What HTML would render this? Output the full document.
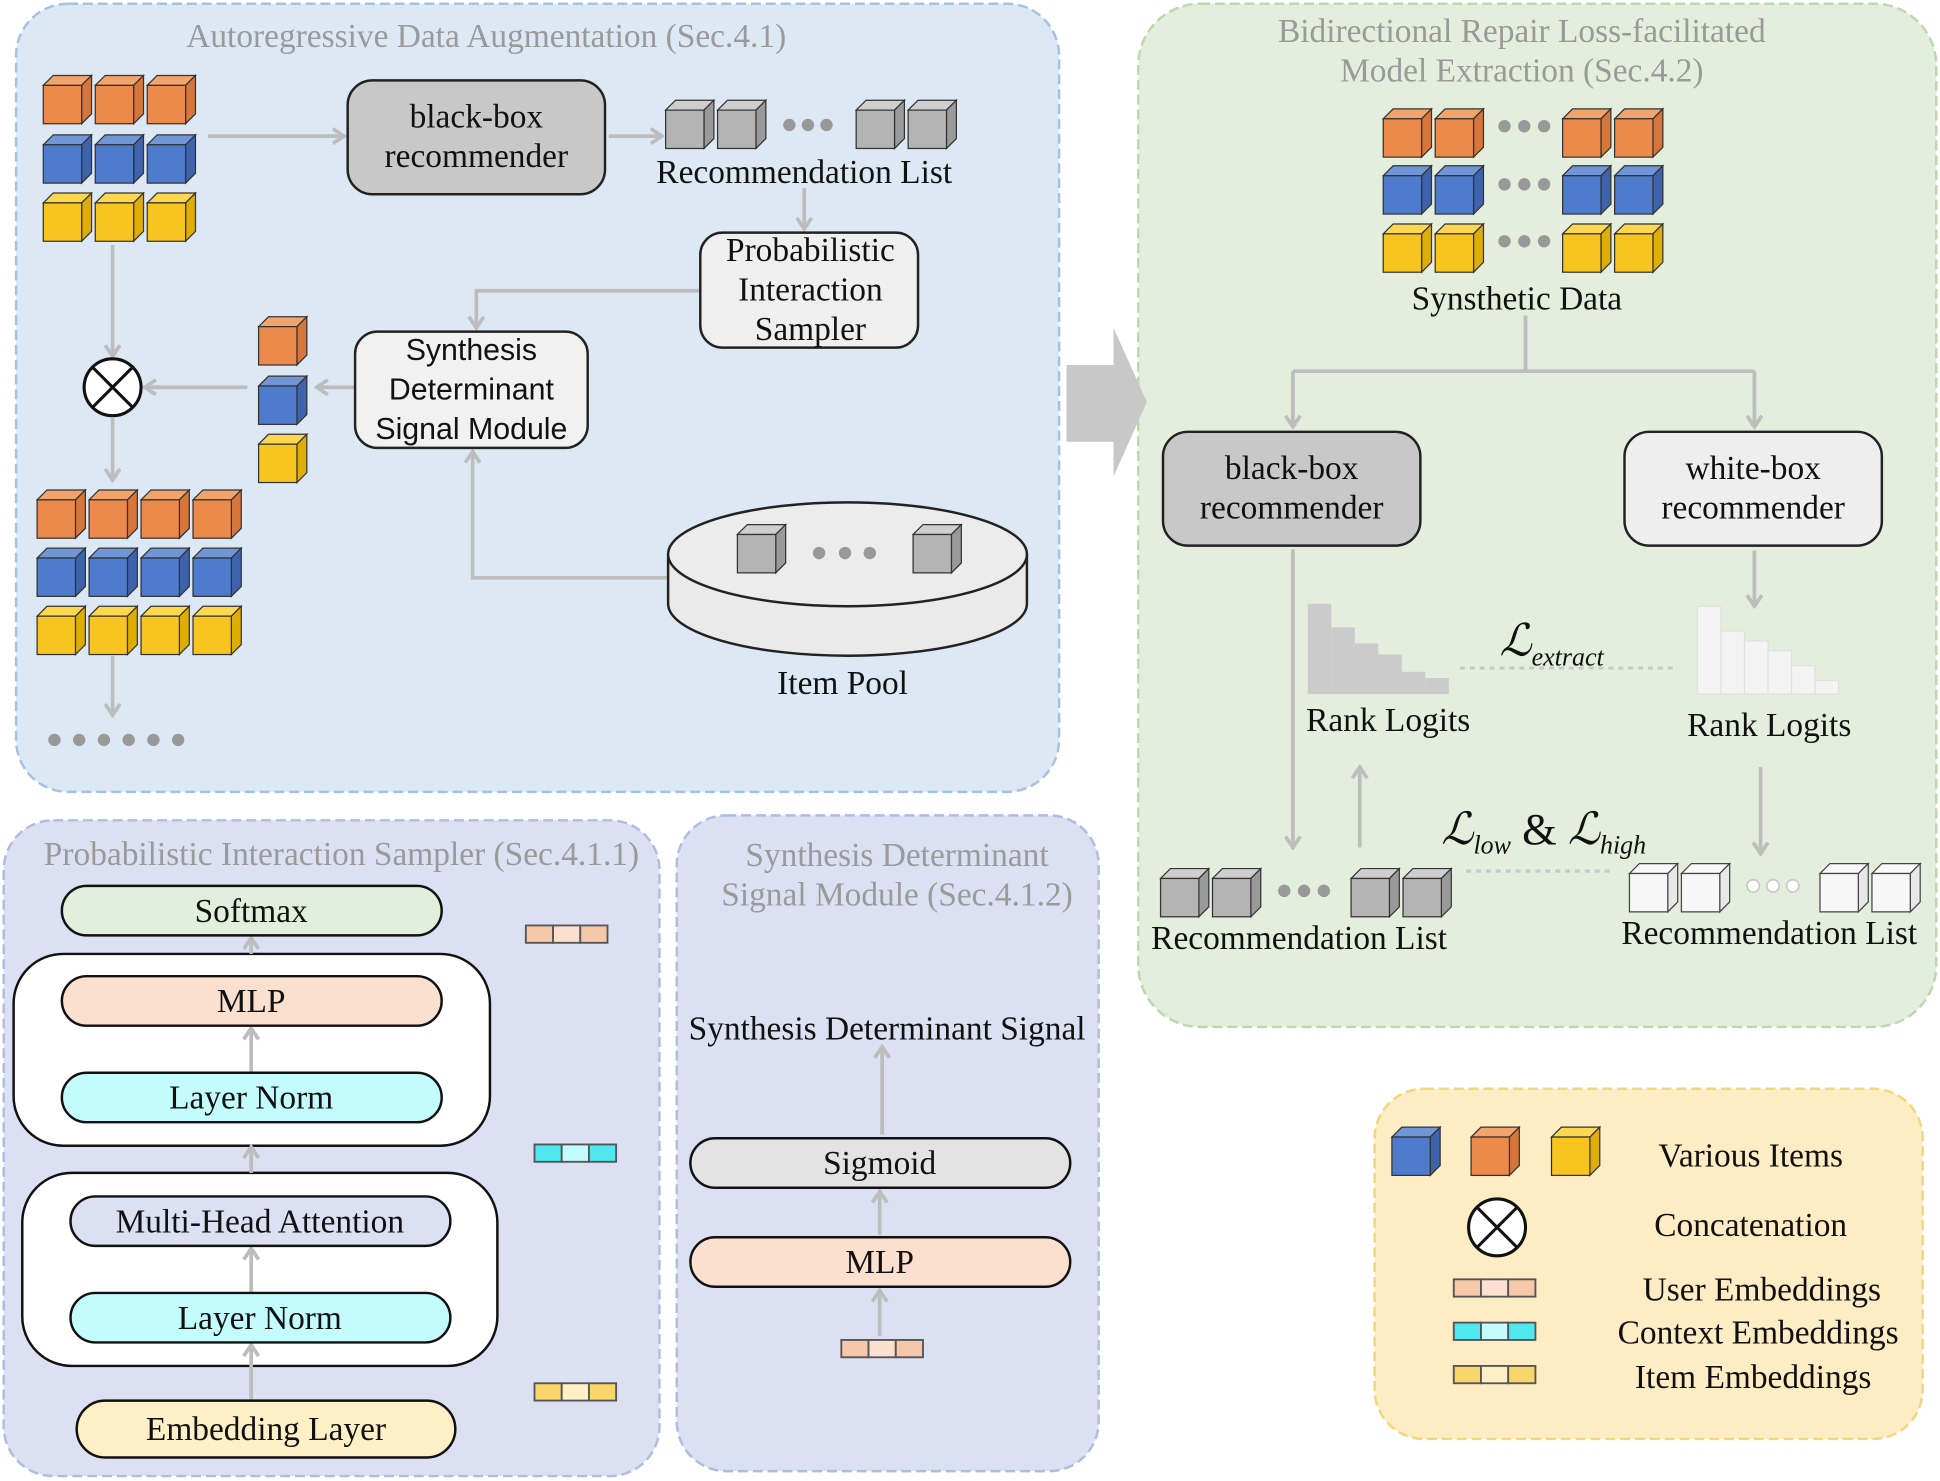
<!DOCTYPE html>
<html><head><meta charset="utf-8"><style>
html,body{margin:0;padding:0;background:#fff;}
svg{display:block;}
text{font-family:"Liberation Serif",serif;font-size:27px;fill:#111;text-anchor:middle;}
.t{fill:#9a9a9a;}
.s{font-family:"Liberation Sans",sans-serif;font-size:24.5px;}
</style></head><body>
<svg width="1940" height="1481" viewBox="0 0 1568 1197" preserveAspectRatio="none" xmlns="http://www.w3.org/2000/svg">
<defs>
<marker id="a" markerWidth="12" markerHeight="14" refX="10" refY="7" orient="auto" markerUnits="userSpaceOnUse"><polyline points="1,1 10,7 1,13" fill="none" stroke="#bdbdbd" stroke-width="3"/></marker>
<symbol id="co" viewBox="0 0 42 42"><polygon points="1,9 9,1 40,1 32,9" fill="#f3a46c" stroke="#333"/><polygon points="32,9 40,1 40,32 32,40" fill="#d7763a" stroke="#333"/><rect x="1" y="9" width="31" height="31" fill="#ec8a4b" stroke="#333"/></symbol>
<symbol id="cb" viewBox="0 0 42 42"><polygon points="1,9 9,1 40,1 32,9" fill="#7096d8" stroke="#333"/><polygon points="32,9 40,1 40,32 32,40" fill="#3d63ad" stroke="#333"/><rect x="1" y="9" width="31" height="31" fill="#4f7bcc" stroke="#333"/></symbol>
<symbol id="cy" viewBox="0 0 42 42"><polygon points="1,9 9,1 40,1 32,9" fill="#fcd750" stroke="#333"/><polygon points="32,9 40,1 40,32 32,40" fill="#dfae05" stroke="#333"/><rect x="1" y="9" width="31" height="31" fill="#f8c520" stroke="#333"/></symbol>
<symbol id="cg" viewBox="0 0 42 42"><polygon points="1,9 9,1 40,1 32,9" fill="#cfcfcf" stroke="#333"/><polygon points="32,9 40,1 40,32 32,40" fill="#9a9a9a" stroke="#333"/><rect x="1" y="9" width="31" height="31" fill="#b4b4b4" stroke="#333"/></symbol>
<symbol id="cw" viewBox="0 0 42 42"><polygon points="1,9 9,1 40,1 32,9" fill="#fafafa" stroke="#444"/><polygon points="32,9 40,1 40,32 32,40" fill="#e8e8e8" stroke="#444"/><rect x="1" y="9" width="31" height="31" fill="#f7f7f7" stroke="#444"/></symbol>
<symbol id="ox" viewBox="0 0 50 50"><circle cx="25" cy="25" r="23" fill="#fff" stroke="#111" stroke-width="2.5"/><line x1="9" y1="9" x2="41" y2="41" stroke="#111" stroke-width="2.5"/><line x1="41" y1="9" x2="9" y2="41" stroke="#111" stroke-width="2.5"/></symbol>
</defs>
<g fill="none" stroke-width="2">
<rect x="13" y="3" width="843" height="637" rx="42" fill="#dde8f5" stroke="#a4c2e4" stroke-dasharray="8 4"/>
<rect x="920" y="3" width="645" height="827" rx="50" fill="#e3eedd" stroke="#bcd8ac" stroke-dasharray="8 4"/>
<rect x="3" y="663" width="530" height="530" rx="40" fill="#dbe1f2" stroke="#b0bde0" stroke-dasharray="8 4"/>
<rect x="547" y="659" width="341" height="530" rx="40" fill="#dbe1f2" stroke="#b0bde0" stroke-dasharray="8 4"/>
<rect x="1111" y="880" width="443" height="283" rx="40" fill="#fdecc4" stroke="#f3d77a" stroke-dasharray="8 4"/>
</g>
<text class="t" x="393" y="38">Autoregressive Data Augmentation (Sec.4.1)</text>
<text class="t" x="1230" y="34">Bidirectional Repair Loss-facilitated</text>
<text class="t" x="1230" y="66">Model Extraction (Sec.4.2)</text>
<text class="t" x="276" y="699">Probabilistic Interaction Sampler (Sec.4.1.1)</text>
<text class="t" x="725" y="700">Synthesis Determinant</text>
<text class="t" x="725" y="732">Signal Module (Sec.4.1.2)</text>

<rect x="11" y="771" width="385" height="155" rx="40" fill="#fff" stroke="#111" stroke-width="2"/>
<rect x="18" y="948" width="384" height="156" rx="40" fill="#fff" stroke="#111" stroke-width="2"/>

<g stroke="#bdbdbd" stroke-width="3" fill="none">
<line x1="168" y1="110" x2="278" y2="110" marker-end="url(#a)"/>
<line x1="492" y1="110" x2="535" y2="110" marker-end="url(#a)"/>
<line x1="650" y1="152" x2="650" y2="185" marker-end="url(#a)"/>
<polyline points="566,235 385,235 385,265" marker-end="url(#a)"/>
<polyline points="540,467 382,467 382,365" marker-end="url(#a)"/>
<line x1="287" y1="313" x2="256" y2="313" marker-end="url(#a)"/>
<line x1="200" y1="313" x2="117" y2="313" marker-end="url(#a)"/>
<line x1="91" y1="198" x2="91" y2="288" marker-end="url(#a)"/>
<line x1="91" y1="338" x2="91" y2="388" marker-end="url(#a)"/>
<line x1="91" y1="530" x2="91" y2="578" marker-end="url(#a)"/>
<line x1="1233" y1="255" x2="1233" y2="300"/>
<line x1="1045" y1="300" x2="1418" y2="300"/>
<line x1="1045" y1="300" x2="1045" y2="345" marker-end="url(#a)"/>
<line x1="1418" y1="300" x2="1418" y2="345" marker-end="url(#a)"/>
<line x1="1045" y1="444" x2="1045" y2="685" marker-end="url(#a)"/>
<line x1="1418" y1="445" x2="1418" y2="490" marker-end="url(#a)"/>
<line x1="1099" y1="685" x2="1099" y2="620" marker-end="url(#a)"/>
<line x1="1423" y1="620" x2="1423" y2="690" marker-end="url(#a)"/>
<line x1="203" y1="771" x2="203" y2="758" marker-end="url(#a)"/>
<line x1="203" y1="866" x2="203" y2="831" marker-end="url(#a)"/>
<line x1="203" y1="948" x2="203" y2="927" marker-end="url(#a)"/>
<line x1="203" y1="1044" x2="203" y2="1009" marker-end="url(#a)"/>
<line x1="203" y1="1131" x2="203" y2="1087" marker-end="url(#a)"/>
<line x1="713" y1="917" x2="713" y2="846" marker-end="url(#a)"/>
<line x1="711" y1="998" x2="711" y2="963" marker-end="url(#a)"/>
<line x1="711" y1="1080" x2="711" y2="1043" marker-end="url(#a)"/>
</g>
<g stroke="#c8c8c8" stroke-width="2.5" stroke-dasharray="4 4">
<line x1="1180" y1="540" x2="1352" y2="540"/>
<line x1="1185" y1="704" x2="1305" y2="704"/>
</g>

<g>
<use href="#co" x="34" y="60" width="42" height="42"/><use href="#co" x="76" y="60" width="42" height="42"/><use href="#co" x="118" y="60" width="42" height="42"/>
<use href="#cb" x="34" y="108" width="42" height="42"/><use href="#cb" x="76" y="108" width="42" height="42"/><use href="#cb" x="118" y="108" width="42" height="42"/>
<use href="#cy" x="34" y="155" width="42" height="42"/><use href="#cy" x="76" y="155" width="42" height="42"/><use href="#cy" x="118" y="155" width="42" height="42"/>
<use href="#cg" x="537" y="80" width="42" height="42"/><use href="#cg" x="579" y="80" width="42" height="42"/>
<use href="#cg" x="691" y="80" width="42" height="42"/><use href="#cg" x="733" y="80" width="42" height="42"/>
<use href="#co" x="208" y="255" width="42" height="42"/><use href="#cb" x="208" y="303" width="42" height="42"/><use href="#cy" x="208" y="350" width="42" height="42"/>
<use href="#co" x="29" y="395" width="42" height="42"/><use href="#co" x="71" y="395" width="42" height="42"/><use href="#co" x="113" y="395" width="42" height="42"/><use href="#co" x="155" y="395" width="42" height="42"/>
<use href="#cb" x="29" y="442" width="42" height="42"/><use href="#cb" x="71" y="442" width="42" height="42"/><use href="#cb" x="113" y="442" width="42" height="42"/><use href="#cb" x="155" y="442" width="42" height="42"/>
<use href="#cy" x="29" y="489" width="42" height="42"/><use href="#cy" x="71" y="489" width="42" height="42"/><use href="#cy" x="113" y="489" width="42" height="42"/><use href="#cy" x="155" y="489" width="42" height="42"/>
</g>
<g fill="#999">
<circle cx="638" cy="101" r="5"/><circle cx="653" cy="101" r="5"/><circle cx="668" cy="101" r="5"/>
<circle cx="44" cy="598" r="5"/><circle cx="64" cy="598" r="5"/><circle cx="84" cy="598" r="5"/><circle cx="104" cy="598" r="5"/><circle cx="124" cy="598" r="5"/><circle cx="144" cy="598" r="5"/>
</g>
<use href="#ox" x="66" y="288" width="50" height="50"/>

<rect x="281" y="65" width="208" height="92" rx="20" fill="#c8c8c8" stroke="#222" stroke-width="2"/>
<text x="385" y="103">black-box</text><text x="385" y="135">recommender</text>
<text x="650" y="148">Recommendation List</text>
<rect x="566" y="188" width="176" height="93" rx="18" fill="#efefef" stroke="#222" stroke-width="2"/>
<text x="655" y="211">Probabilistic</text><text x="655" y="243">Interaction</text><text x="655" y="275">Sampler</text>
<rect x="287" y="268" width="188" height="94" rx="18" fill="#f1f1f1" stroke="#222" stroke-width="2"/>
<text class="s" x="381" y="291">Synthesis</text><text class="s" x="381" y="323">Determinant</text><text class="s" x="381" y="355">Signal Module</text>

<path d="M540,448 L540,488 A145,42 0 0 0 830,488 L830,448" fill="#eaeaea" stroke="#222" stroke-width="2"/>
<ellipse cx="685" cy="448" rx="145" ry="42" fill="#ececec" stroke="#222" stroke-width="2"/>
<use href="#cg" x="595" y="423" width="42" height="42"/><use href="#cg" x="737" y="423" width="42" height="42"/>
<g fill="#999"><circle cx="662" cy="447" r="5"/><circle cx="683" cy="447" r="5"/><circle cx="703" cy="447" r="5"/></g>
<text x="681" y="561">Item Pool</text>

<polygon points="862,295 900,295 900,265 927,325 900,385 900,357 862,357" fill="#c8c8c8"/>

<g>
<use href="#co" x="1117" y="87" width="42" height="42"/><use href="#co" x="1159" y="87" width="42" height="42"/><use href="#co" x="1262" y="87" width="42" height="42"/><use href="#co" x="1304" y="87" width="42" height="42"/>
<use href="#cb" x="1117" y="133" width="42" height="42"/><use href="#cb" x="1159" y="133" width="42" height="42"/><use href="#cb" x="1262" y="133" width="42" height="42"/><use href="#cb" x="1304" y="133" width="42" height="42"/>
<use href="#cy" x="1117" y="180" width="42" height="42"/><use href="#cy" x="1159" y="180" width="42" height="42"/><use href="#cy" x="1262" y="180" width="42" height="42"/><use href="#cy" x="1304" y="180" width="42" height="42"/>
<use href="#cg" x="937" y="701" width="42" height="42"/><use href="#cg" x="979" y="701" width="42" height="42"/><use href="#cg" x="1091" y="701" width="42" height="42"/><use href="#cg" x="1133" y="701" width="42" height="42"/>
<use href="#cw" x="1316" y="697" width="42" height="42"/><use href="#cw" x="1358" y="697" width="42" height="42"/><use href="#cw" x="1470" y="697" width="42" height="42"/><use href="#cw" x="1512" y="697" width="42" height="42"/>
</g>
<g fill="#999">
<circle cx="1216" cy="102" r="5"/><circle cx="1232" cy="102" r="5"/><circle cx="1248" cy="102" r="5"/>
<circle cx="1216" cy="149" r="5"/><circle cx="1232" cy="149" r="5"/><circle cx="1248" cy="149" r="5"/>
<circle cx="1216" cy="195" r="5"/><circle cx="1232" cy="195" r="5"/><circle cx="1248" cy="195" r="5"/>
<circle cx="1038" cy="720" r="5"/><circle cx="1054" cy="720" r="5"/><circle cx="1070" cy="720" r="5"/>
</g>
<g fill="#fff" stroke="#ccc" stroke-width="1.5"><circle cx="1417" cy="716" r="5"/><circle cx="1433" cy="716" r="5"/><circle cx="1449" cy="716" r="5"/></g>
<text x="1226" y="250">Synsthetic Data</text>
<rect x="940" y="349" width="208" height="92" rx="20" fill="#c8c8c8" stroke="#222" stroke-width="2"/>
<text x="1044" y="387">black-box</text><text x="1044" y="419">recommender</text>
<rect x="1313" y="349" width="208" height="92" rx="20" fill="#eeeeee" stroke="#222" stroke-width="2"/>
<text x="1417" y="387">white-box</text><text x="1417" y="419">recommender</text>
<g fill="#cbcbcb">
<rect x="1057" y="488" width="19" height="73"/><rect x="1076" y="507" width="19" height="54"/><rect x="1095" y="520" width="19" height="41"/><rect x="1114" y="529" width="19" height="32"/><rect x="1133" y="543" width="19" height="18"/><rect x="1152" y="548" width="19" height="13"/>
</g>
<g fill="#f3f3f3" stroke="#e0e0e0">
<rect x="1372" y="490" width="19" height="71"/><rect x="1391" y="510" width="19" height="51"/><rect x="1410" y="518" width="19" height="43"/><rect x="1429" y="526" width="19" height="35"/><rect x="1448" y="538" width="19" height="23"/><rect x="1467" y="550" width="19" height="11"/>
</g>
<text x="1122" y="591">Rank Logits</text>
<text x="1430" y="595">Rank Logits</text>
<text x="1212" y="530" style="font-size:36px;font-style:italic;text-anchor:start">ℒ<tspan style="font-size:21px" dy="8">extract</tspan></text>
<text x="1165" y="682" style="font-size:36px;font-style:italic;text-anchor:start">ℒ<tspan style="font-size:21px" dy="8">low</tspan><tspan dy="-8" style="font-style:normal"> &amp; </tspan>ℒ<tspan style="font-size:21px" dy="8">high</tspan></text>
<text x="1050" y="767">Recommendation List</text>
<text x="1430" y="763">Recommendation List</text>

<g stroke="#111" stroke-width="2">
<rect x="50" y="716" width="307" height="40" rx="20" fill="#e2efdc"/>
<rect x="50" y="789" width="307" height="40" rx="20" fill="#fbe0d0"/>
<rect x="50" y="867" width="307" height="40" rx="20" fill="#c4fbfc"/>
<rect x="57" y="967" width="307" height="40" rx="20" fill="#dbe0f3"/>
<rect x="57" y="1045" width="307" height="40" rx="20" fill="#c4fbfc"/>
<rect x="62" y="1132" width="306" height="46" rx="23" fill="#fdefc6"/>
<rect x="558" y="920" width="307" height="40" rx="20" fill="#e3e3e3"/>
<rect x="558" y="1000" width="307" height="40" rx="20" fill="#fbe0d0"/>
</g>
<text x="203" y="745">Softmax</text><text x="203" y="818">MLP</text><text x="203" y="896">Layer Norm</text>
<text x="210" y="996">Multi-Head Attention</text><text x="210" y="1074">Layer Norm</text><text x="215" y="1164">Embedding Layer</text>
<text x="711" y="949">Sigmoid</text><text x="711" y="1029">MLP</text>
<text x="717" y="840">Synthesis Determinant Signal</text>

<g stroke="#555" stroke-width="1.5">
<rect x="425" y="748" width="22" height="14" fill="#f6c7a8"/><rect x="447" y="748" width="22" height="14" fill="#fbe0d0"/><rect x="469" y="748" width="22" height="14" fill="#f6c7a8"/>
<rect x="432" y="925" width="22" height="14" fill="#4fe8ee"/><rect x="454" y="925" width="22" height="14" fill="#c4fbfc"/><rect x="476" y="925" width="22" height="14" fill="#4fe8ee"/>
<rect x="432" y="1118" width="22" height="14" fill="#f8d66a"/><rect x="454" y="1118" width="22" height="14" fill="#fdefc6"/><rect x="476" y="1118" width="22" height="14" fill="#f8d66a"/>
<rect x="680" y="1083" width="22" height="14" fill="#f6c7a8"/><rect x="702" y="1083" width="22" height="14" fill="#fbe0d0"/><rect x="724" y="1083" width="22" height="14" fill="#f6c7a8"/>
<rect x="1175" y="1034" width="22" height="14" fill="#f6c7a8"/><rect x="1197" y="1034" width="22" height="14" fill="#fbe0d0"/><rect x="1219" y="1034" width="22" height="14" fill="#f6c7a8"/>
<rect x="1175" y="1069" width="22" height="14" fill="#4fe8ee"/><rect x="1197" y="1069" width="22" height="14" fill="#c4fbfc"/><rect x="1219" y="1069" width="22" height="14" fill="#4fe8ee"/>
<rect x="1175" y="1104" width="22" height="14" fill="#f8d66a"/><rect x="1197" y="1104" width="22" height="14" fill="#fdefc6"/><rect x="1219" y="1104" width="22" height="14" fill="#f8d66a"/>
</g>

<use href="#cb" x="1124" y="910" width="42" height="42"/><use href="#co" x="1188" y="910" width="42" height="42"/><use href="#cy" x="1253" y="910" width="42" height="42"/>
<use href="#ox" x="1185" y="967" width="50" height="50"/>
<text x="1415" y="943">Various Items</text>
<text x="1415" y="999">Concatenation</text>
<text x="1424" y="1051">User Embeddings</text>
<text x="1421" y="1086">Context Embeddings</text>
<text x="1417" y="1122">Item Embeddings</text>
</svg>
</body></html>
